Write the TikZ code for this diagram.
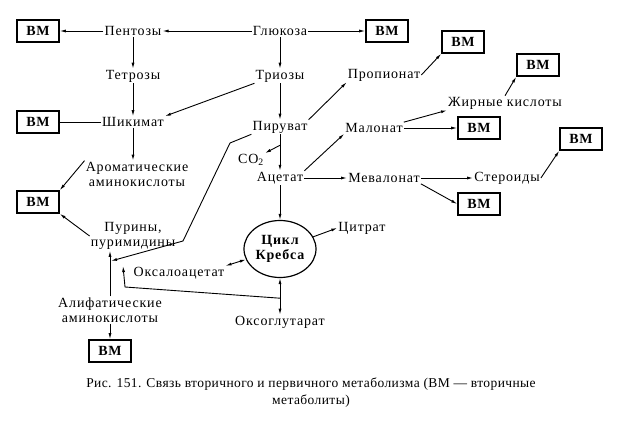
\documentclass[tikz,border=0pt]{standalone}
\usepackage{fontspec}
\setmainfont{Liberation Serif}[LetterSpace=6]
\usepackage{tikz}
\usetikzlibrary{arrows.meta,positioning,shapes.geometric}
\newcommand{\shrift}{\fontsize{14}{15}\selectfont}
\tikzset{
    metabolit/.style={
        inner sep=1pt,
        align=center
    },
    vmbox/.style={
        rectangle,
        draw,
        line width=1.6pt,
        minimum width=42pt,
        minimum height=22pt,
        inner sep=0pt,
        font=\shrift\bfseries
    },
    cikl/.style={
        ellipse,
        draw,
        line width=1.2pt,
        align=center,
        minimum width=72pt,
        minimum height=57pt,
        inner sep=0pt,
        font=\shrift\bfseries
    },
    strelka/.style={-{Latex[length=6pt,width=3pt]}, line width=0.9pt},
    dvoinaya/.style={{Latex[length=6pt,width=3pt]}-{Latex[length=6pt,width=3pt]}, line width=0.9pt},
    tonkaya/.style={line width=0.5pt}
}

\begin{document}
\begin{tikzpicture}[x=1pt, y=-1pt, on grid, font=\shrift]
    \useasboundingbox (0,0) rectangle (623,422);
    % osnovnaya kolonka
    \node[metabolit] (gluk) at (280,31) {Глюкоза};
    \node[metabolit, below=45pt of gluk] (trioz) {Триозы};
    \node[metabolit, below=51pt of trioz] (piruv) {Пируват};
    \node[metabolit, below=51pt of piruv] (acet) {Ацетат};
    \node[cikl, below=71pt of acet] (krebs) {Цикл\\Кребса};
    \node[metabolit, below=73pt of krebs] (oksoglu) {Оксоглутарат};
    \node[metabolit] (co2) at (251,160) {CO\textsubscript{2}};
    \node[metabolit] (citrat) at (362,228) {Цитрат};
    \node[metabolit] (oksal) at (179,273) {Оксалоацетат};
    % levaya chast
    \node[metabolit, left=147pt of gluk] (pent) {Пентозы};
    \node[metabolit, below=45pt of pent] (tetr) {Тетрозы};
    \node[metabolit, below=46pt of tetr] (shik) {Шикимат};
    \node[metabolit, below=52pt of shik, xshift=4pt] (arom) {Ароматические\\аминокислоты};
    \node[metabolit] (puri) at (133,236) {Пурины,\\пуримидины};
    \node[metabolit] (ali) at (110,310) {Алифатические\\аминокислоты};
    \node[vmbox, left=95pt of pent] (vm1) {ВМ};
    \node[vmbox, left=95pt of shik] (vm3) {ВМ};
    \node[vmbox] (vm9) at (38,202) {ВМ};
    \node[vmbox, below=41pt of ali] (vm10) {ВМ};
    % pravaya chast
    \node[vmbox, right=107pt of gluk] (vm2) {ВМ};
    \node[metabolit] (prop) at (384,75) {Пропионат};
    \node[vmbox] (vm4) at (463,42) {ВМ};
    \node[metabolit] (malo) at (374,128) {Малонат};
    \node[metabolit] (fat) at (505,103) {Жирные кислоты};
    \node[vmbox] (vm5) at (538,65) {ВМ};
    \node[vmbox, right=105pt of malo] (vm6) {ВМ};
    \node[metabolit, right=104pt of acet] (meva) {Мевалонат};
    \node[metabolit, right=123pt of meva] (ster) {Стероиды};
    \node[vmbox] (vm7) at (581,139) {ВМ};
    \node[vmbox] (vm8) at (479,204) {ВМ};
    % podpis
    \node[metabolit, font=\fontsize{13.5}{17}\selectfont\addfontfeatures{LetterSpace=3}] (podpis) at (311,393)
        {Рис. 151. Связь вторичного и первичного метаболизма (ВМ — вторичные\\метаболиты)};
    % vspomogatelnye tochki
    \path (piruv) -- (acet) coordinate[pos=0.3] (razv);
    \path (krebs) -- (oksoglu) coordinate[pos=0.55] (oksjn);
    \coordinate (izgib1) at (230,143);
    \coordinate (izgib2) at (183,241);
    \coordinate (uzel) at (111,261);
    \coordinate (povorot) at (125,287);
    \coordinate (uzel2) at (123,266);
    % svyazi
    \draw[strelka] (gluk) -- (pent);
    \draw[strelka] (pent) -- (vm1);
    \draw[strelka] (gluk) -- (vm2);
    \draw[strelka] (pent) -- (tetr);
    \draw[strelka] (tetr) -- (shik);
    \draw[tonkaya] (shik) -- (vm3);
    \draw[strelka] (shik) -- (shik |- arom.north);
    \draw[strelka] (trioz.south west) -- (shik.north east);
    \draw[strelka] (gluk) -- (trioz);
    \draw[strelka] (trioz) -- (piruv);
    \draw[strelka] (piruv) -- (acet);
    \draw[strelka] (razv) -- (co2.north east);
    \draw[strelka] (acet) -- (krebs);
    \draw[dvoinaya] (krebs) -- (oksoglu);
    \draw[strelka] (oksjn) -- (povorot) -- (uzel2);
    \draw[strelka] (piruv.south west) -- (izgib1) -- (izgib2) -- (uzel);
    \draw[dvoinaya] (oksal.north east) -- (krebs);
    \draw[strelka] (krebs) -- (citrat.west);
    \draw[strelka] (piruv.north east) -- (prop.south west);
    \draw[strelka] (prop.east) -- (vm4.south west);
    \draw[strelka] (acet.north east) -- (malo.south west);
    \draw[strelka] (malo.east) -- (vm6);
    \draw[strelka] (malo.north east) -- (fat.south west);
    \draw[strelka] (fat.north) -- (vm5.south west);
    \draw[strelka] (acet) -- (meva);
    \draw[strelka] (meva) -- (ster);
    \draw[strelka] (meva.south east) -- (vm8.west);
    \draw[strelka] (ster.east) -- (vm7.south west);
    \draw[strelka] (arom.north west) -- (vm9.north east);
    \draw[strelka] (puri.west) -- (vm9.south east);
    \draw[strelka] (ali) -- (ali |- puri.south);
    \draw[strelka] (ali) -- (vm10);
\end{tikzpicture}
\end{document}
